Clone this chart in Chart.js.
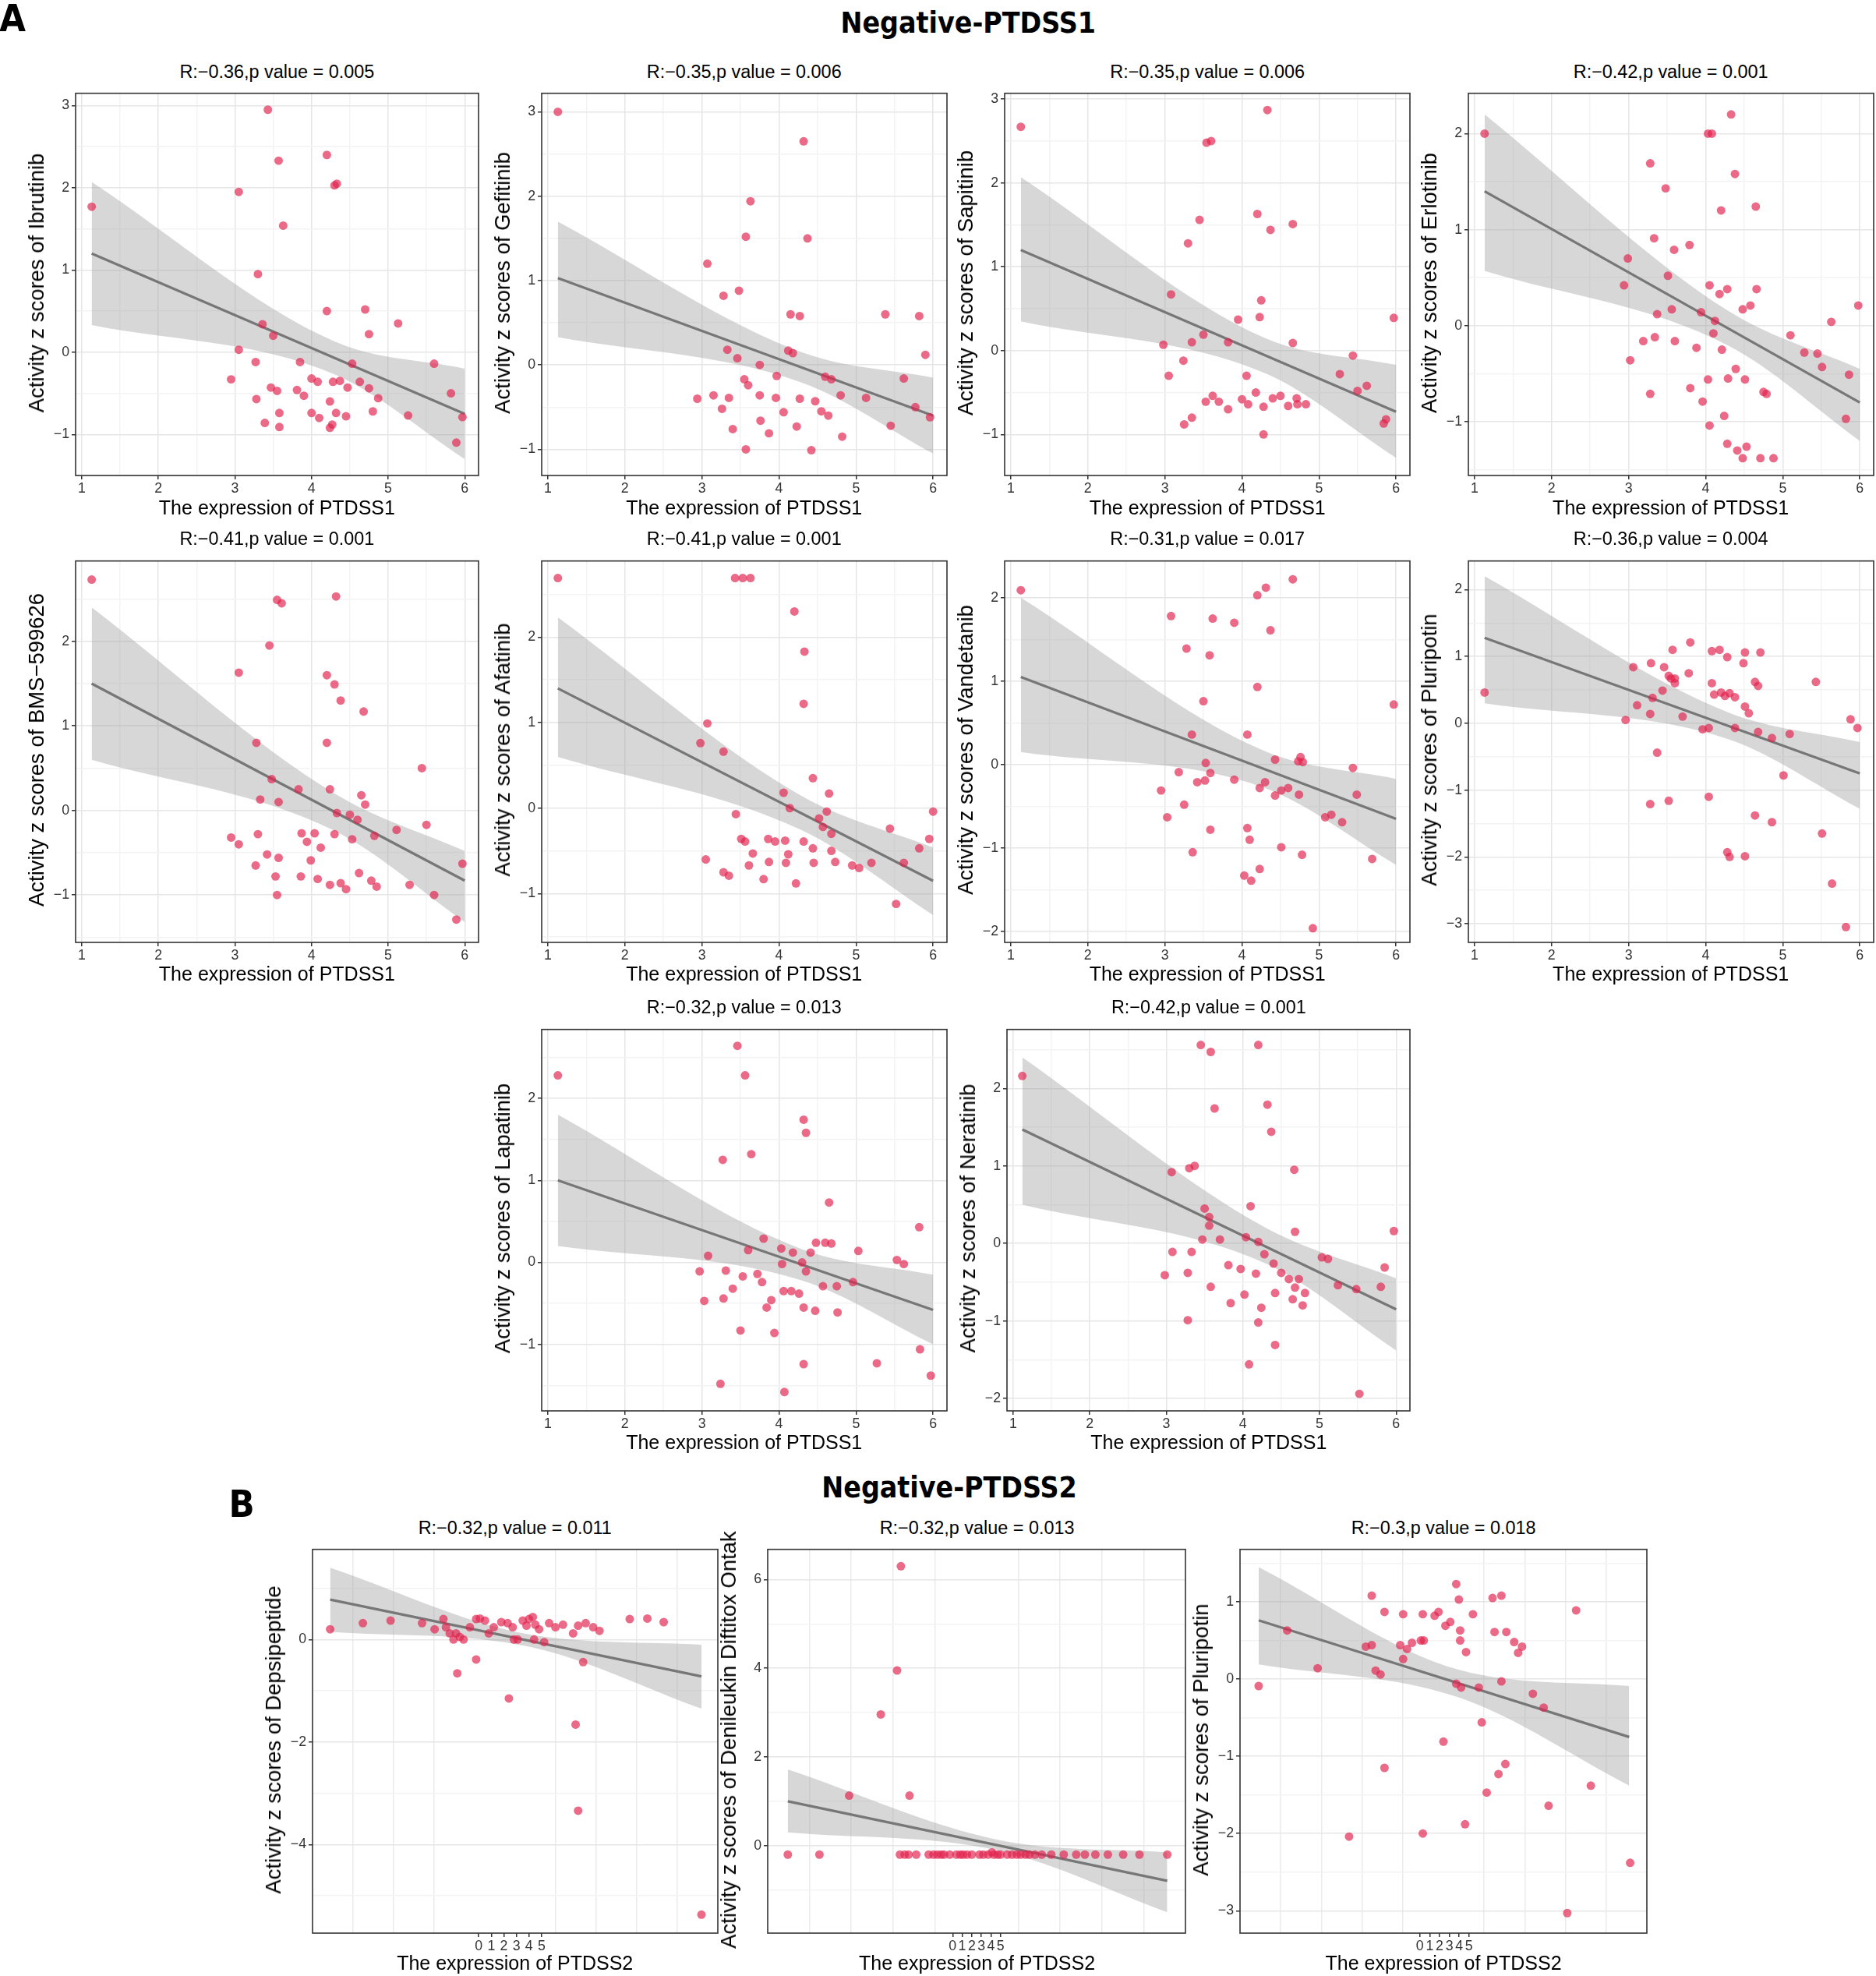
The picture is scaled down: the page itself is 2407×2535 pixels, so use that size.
<!DOCTYPE html>
<html>
<head>
<meta charset="utf-8">
<script src="https://cdn.jsdelivr.net/npm/chart.js@4.4.0/dist/chart.umd.min.js"></script>
<style>
  html, body { margin: 0; padding: 0; background: #fff; }
  #page { position: relative; width: 2407px; height: 2535px; overflow: hidden; font-family: 'Liberation Sans', Arial, sans-serif; color: #000; }
  .txt { position: absolute; white-space: nowrap; transform: translate(-50%, -50%); }
  .ytitle { transform: translate(-50%, -50%) rotate(-90deg); }
  .head { font-family: 'DejaVu Sans Condensed', 'DejaVu Sans', sans-serif; font-weight: bold; }
  .box { position: absolute; }
</style>
</head>
<body>
<div id="page"></div>
<script>
// ---- data ----
const ibrutinib = [[1.13,1.77],[3.43,2.95],[3.05,1.95],[3.57,2.33],[3.63,1.54],[3.3,0.95],[4.2,2.4],[4.33,2.05],[4.3,2.03],[4.2,0.5],[4.7,0.52],[4.75,0.22],[5.13,0.35],[3.05,0.03],[2.95,-0.33],[3.36,0.34],[3.5,0.2],[3.27,-0.12],[3.85,-0.12],[4.0,-0.32],[4.08,-0.36],[4.37,-0.35],[4.53,-0.14],[4.63,-0.36],[4.75,-0.44],[4.87,-0.56],[4.8,-0.72],[4.47,-0.43],[4.28,-0.36],[4.24,-0.6],[3.9,-0.53],[3.81,-0.46],[3.47,-0.43],[3.55,-0.47],[3.28,-0.57],[3.58,-0.74],[3.39,-0.86],[3.58,-0.91],[4.0,-0.74],[4.1,-0.8],[4.27,-0.88],[4.32,-0.74],[4.45,-0.78],[4.24,-0.92],[5.26,-0.77],[5.6,-0.14],[5.82,-0.5],[5.97,-0.79],[5.89,-1.1]];
const gefitinib = [[1.13,3.0],[4.32,2.65],[3.63,1.94],[3.57,1.52],[4.37,1.5],[3.07,1.2],[3.28,0.82],[3.48,0.88],[4.15,0.6],[4.27,0.58],[5.38,0.6],[5.82,0.58],[5.9,0.12],[3.33,0.18],[4.12,0.17],[3.46,0.08],[3.75,0.0],[3.55,-0.17],[3.97,-0.13],[4.18,0.14],[4.6,-0.14],[4.68,-0.17],[3.15,-0.36],[2.94,-0.4],[3.35,-0.39],[3.6,-0.24],[3.75,-0.36],[3.96,-0.39],[4.06,-0.56],[4.27,-0.4],[4.47,-0.43],[4.55,-0.55],[4.8,-0.36],[5.13,-0.39],[5.62,-0.16],[5.77,-0.5],[5.45,-0.72],[5.96,-0.62],[3.26,-0.52],[3.4,-0.76],[3.76,-0.66],[4.23,-0.73],[3.87,-0.81],[3.57,-1.0],[4.42,-1.01],[4.82,-0.85],[4.64,-0.6]];
const sapitinib = [[1.13,2.67],[4.33,2.87],[3.6,2.5],[3.54,2.48],[3.45,1.56],[3.3,1.28],[4.2,1.63],[4.37,1.44],[4.66,1.51],[3.08,0.67],[4.25,0.6],[3.95,0.37],[4.23,0.4],[5.97,0.39],[2.98,0.07],[3.35,0.1],[3.5,0.19],[3.82,0.1],[4.66,0.09],[5.44,-0.06],[5.27,-0.28],[5.62,-0.42],[5.5,-0.48],[3.24,-0.12],[3.05,-0.3],[4.06,-0.3],[3.62,-0.54],[3.53,-0.61],[3.7,-0.61],[3.82,-0.7],[4.0,-0.58],[4.08,-0.64],[4.18,-0.5],[4.28,-0.67],[4.4,-0.57],[4.5,-0.54],[4.6,-0.66],[4.71,-0.57],[4.83,-0.64],[3.35,-0.8],[3.25,-0.88],[4.28,-1.0],[5.84,-0.87],[5.87,-0.82],[4.72,-0.64]];
const erlotinib = [[1.13,2.0],[4.33,2.2],[4.03,2.0],[4.08,2.0],[3.28,1.69],[3.48,1.43],[4.2,1.2],[4.65,1.24],[4.38,1.58],[3.33,0.91],[3.59,0.79],[3.79,0.84],[2.99,0.7],[3.51,0.52],[4.05,0.42],[4.18,0.33],[4.28,0.38],[4.66,0.38],[2.94,0.42],[3.37,0.12],[3.56,0.17],[3.94,0.14],[4.12,0.05],[4.48,0.17],[4.58,0.21],[4.1,-0.08],[3.34,-0.12],[3.19,-0.16],[3.6,-0.16],[3.88,-0.23],[4.21,-0.25],[5.1,-0.1],[5.28,-0.28],[5.45,-0.29],[5.51,-0.43],[5.98,0.21],[5.86,-0.51],[3.02,-0.36],[3.28,-0.71],[4.39,-0.45],[4.29,-0.55],[4.03,-0.56],[4.51,-0.56],[4.75,-0.69],[4.79,-0.71],[3.8,-0.65],[3.96,-0.79],[4.24,-0.94],[4.05,-1.04],[4.28,-1.23],[4.41,-1.3],[4.53,-1.26],[4.48,-1.38],[4.71,-1.38],[4.88,-1.38],[5.82,-0.97],[5.63,0.04]];
const bms599626 = [[1.13,2.73],[3.55,2.49],[3.61,2.45],[4.32,2.53],[3.45,1.95],[3.05,1.63],[4.2,1.6],[4.3,1.49],[4.38,1.3],[4.68,1.17],[3.28,0.8],[4.2,0.8],[5.44,0.5],[3.48,0.37],[3.33,0.13],[3.57,0.1],[3.83,0.25],[4.24,0.25],[4.65,0.18],[4.7,0.07],[4.33,-0.03],[4.5,-0.05],[4.6,-0.11],[5.11,-0.23],[5.5,-0.17],[2.95,-0.32],[3.05,-0.4],[3.3,-0.28],[3.87,-0.27],[3.94,-0.37],[4.04,-0.27],[4.3,-0.28],[4.12,-0.44],[4.53,-0.34],[4.82,-0.3],[3.42,-0.52],[3.57,-0.56],[3.27,-0.65],[3.99,-0.59],[4.08,-0.81],[3.53,-0.78],[3.86,-0.78],[4.24,-0.88],[4.45,-0.93],[4.62,-0.74],[4.78,-0.83],[4.85,-0.9],[4.38,-0.86],[3.55,-1.0],[5.28,-0.88],[5.6,-1.0],[5.97,-0.63],[5.89,-1.29]];
const afatinib = [[1.13,2.69],[3.43,2.69],[3.53,2.69],[3.63,2.69],[4.2,2.3],[4.33,1.83],[4.32,1.22],[3.07,0.99],[2.98,0.76],[3.28,0.66],[4.44,0.35],[4.06,0.18],[4.14,0.0],[4.65,0.17],[4.62,-0.04],[3.44,-0.07],[4.52,-0.12],[4.57,-0.22],[4.68,-0.3],[5.44,-0.24],[5.95,-0.36],[6.0,-0.04],[3.51,-0.36],[3.56,-0.39],[3.86,-0.36],[3.95,-0.39],[4.08,-0.38],[4.12,-0.54],[4.32,-0.39],[4.44,-0.47],[4.68,-0.5],[3.66,-0.53],[3.87,-0.63],[3.05,-0.6],[3.28,-0.75],[3.35,-0.79],[3.61,-0.67],[3.8,-0.83],[4.09,-0.64],[4.22,-0.88],[4.45,-0.64],[4.73,-0.63],[4.95,-0.67],[5.04,-0.7],[5.2,-0.64],[5.62,-0.64],[5.82,-0.47],[5.52,-1.12]];
const vandetanib = [[1.13,2.09],[4.66,2.22],[4.31,2.12],[4.2,2.03],[4.37,1.61],[3.9,1.7],[3.62,1.75],[3.08,1.78],[3.28,1.39],[3.58,1.31],[4.2,0.93],[3.5,0.76],[5.97,0.72],[3.35,0.36],[4.07,0.36],[4.76,0.09],[4.73,0.04],[4.79,0.03],[3.53,0.02],[3.59,-0.1],[3.18,-0.09],[4.43,0.06],[3.9,-0.18],[3.52,-0.19],[3.42,-0.21],[4.3,-0.21],[4.23,-0.28],[4.6,-0.28],[4.51,-0.31],[4.43,-0.37],[4.74,-0.36],[5.44,-0.04],[5.49,-0.36],[5.08,-0.63],[5.16,-0.6],[5.3,-0.69],[2.95,-0.31],[3.25,-0.48],[3.03,-0.63],[4.07,-0.76],[3.59,-0.78],[4.1,-0.9],[4.51,-0.99],[4.78,-1.08],[5.69,-1.13],[3.36,-1.05],[4.03,-1.33],[4.12,-1.39],[4.23,-1.25],[4.92,-1.96]];
const pluripotin1 = [[1.13,0.46],[2.96,0.05],[3.06,0.84],[3.29,0.9],[3.46,0.84],[3.52,0.71],[3.55,0.67],[3.6,0.67],[3.6,0.6],[3.44,0.49],[3.31,0.38],[3.11,0.27],[3.28,0.14],[3.8,1.21],[3.57,1.1],[4.08,1.08],[4.18,1.1],[4.51,1.06],[4.71,1.06],[4.28,0.99],[4.49,0.9],[3.78,0.75],[4.08,0.6],[4.11,0.43],[4.25,0.41],[4.31,0.45],[4.38,0.39],[4.2,0.46],[4.64,0.62],[4.68,0.56],[4.51,0.25],[4.56,0.15],[3.7,0.1],[4.04,-0.07],[3.96,-0.09],[4.38,-0.07],[4.68,-0.13],[4.86,-0.22],[5.09,-0.16],[5.43,0.62],[5.88,0.06],[5.97,-0.07],[3.37,-0.44],[5.01,-0.78],[3.28,-1.21],[3.52,-1.16],[4.04,-1.1],[4.64,-1.38],[4.86,-1.48],[5.51,-1.65],[4.28,-1.93],[4.31,-2.0],[4.51,-1.99],[5.64,-2.4],[5.82,-3.05]];
const lapatinib = [[1.13,2.28],[3.46,2.64],[3.56,2.28],[3.64,1.32],[3.27,1.25],[4.32,1.74],[4.35,1.58],[4.65,0.73],[3.8,0.29],[3.08,0.08],[3.6,0.15],[4.48,0.24],[4.6,0.24],[4.68,0.23],[5.03,0.14],[4.03,0.17],[4.18,0.12],[4.04,-0.02],[4.3,0.0],[4.41,0.12],[5.53,0.03],[5.62,-0.02],[5.82,0.43],[2.97,-0.11],[3.31,-0.1],[3.53,-0.17],[3.72,-0.14],[3.78,-0.24],[4.35,-0.11],[4.57,-0.29],[4.75,-0.29],[4.96,-0.24],[3.4,-0.32],[4.06,-0.35],[4.16,-0.35],[4.26,-0.38],[4.32,-0.55],[4.47,-0.59],[3.03,-0.47],[3.28,-0.44],[3.84,-0.55],[3.9,-0.46],[4.76,-0.61],[3.5,-0.83],[3.94,-0.86],[4.32,-1.24],[5.27,-1.23],[5.83,-1.06],[4.07,-1.58],[3.24,-1.48],[5.97,-1.38]];
const neratinib = [[1.12,2.16],[3.45,2.56],[3.58,2.47],[4.2,2.56],[4.32,1.79],[3.63,1.74],[4.37,1.44],[3.07,0.92],[3.3,0.97],[3.37,1.0],[4.67,0.95],[3.5,0.45],[3.56,0.34],[4.1,0.48],[3.08,-0.11],[3.33,-0.11],[3.47,0.05],[3.56,0.23],[3.7,0.05],[4.04,0.08],[4.2,0.02],[4.28,-0.14],[4.68,0.15],[5.03,-0.18],[5.11,-0.2],[5.97,0.16],[5.85,-0.31],[2.98,-0.41],[3.28,-0.38],[3.81,-0.28],[3.97,-0.33],[4.17,-0.39],[4.4,-0.26],[4.5,-0.38],[4.6,-0.46],[4.73,-0.46],[4.68,-0.57],[4.81,-0.64],[5.24,-0.54],[5.48,-0.59],[5.8,-0.56],[3.58,-0.56],[4.02,-0.66],[4.42,-0.64],[4.65,-0.72],[4.24,-0.83],[3.84,-0.77],[4.78,-0.8],[3.28,-0.99],[4.2,-1.02],[4.08,-1.56],[4.42,-1.31],[5.52,-1.94]];
const depsipeptide = [[-11.8,0.2],[-9.2,0.32],[-7,0.37],[-4.5,0.32],[-3.5,0.2],[-2.8,0.4],[-2.6,0.24],[-2.3,0.12],[-2,0],[-1.8,0.12],[-1.5,0.05],[-1.2,0],[-0.7,0.24],[-0.2,0.4],[0.1,0.41],[0.5,0.37],[0.8,0.12],[1.2,0.24],[1.8,0.34],[2.3,0.32],[2.7,0.24],[3.1,0],[3.5,0.37],[3.8,0.27],[4,0.4],[4.3,0.44],[4.5,0.29],[4.8,0.2],[5.2,-0.05],[5.6,0.32],[6.1,0.24],[6.7,0.29],[7.5,0.12],[7.9,0.27],[8.5,0.32],[9.1,0.24],[9.6,0.17],[12,0.4],[13.4,0.41],[14.7,0.34],[2.8,0],[4.4,0],[-0.2,-0.39],[8.3,-0.44],[-1.7,-0.66],[2.4,-1.15],[7.7,-1.66],[7.9,-3.34],[17.7,-5.37]];
const denileukin = [[-5.4,6.3],[-5.8,3.95],[-7.5,2.96],[-4.5,1.13],[-10.8,1.13],[-17.2,-0.2],[-13.9,-0.2],[-5.5,-0.2],[-5.0,-0.2],[-4.6,-0.2],[-3.8,-0.2],[-2.5,-0.2],[-2.0,-0.2],[-1.6,-0.2],[-1.2,-0.2],[-0.9,-0.2],[-0.3,-0.2],[0.4,-0.2],[0.8,-0.2],[1.1,-0.2],[1.5,-0.2],[2.0,-0.2],[2.8,-0.2],[3.2,-0.2],[3.7,-0.2],[4.3,-0.2],[4.7,-0.2],[5.0,-0.2],[5.7,-0.2],[6.2,-0.2],[6.7,-0.2],[7.1,-0.2],[7.6,-0.2],[8.0,-0.2],[8.6,-0.2],[9.3,-0.2],[10.3,-0.2],[11.6,-0.2],[12.9,-0.2],[13.8,-0.2],[14.9,-0.2],[16.2,-0.2],[17.8,-0.2],[19.5,-0.2],[22.4,-0.2],[4.1,-0.15]];
const pluripotin2 = [[-16.4,-0.09],[-13.5,0.63],[-10.4,0.14],[-7.2,-2.04],[-4.9,1.08],[-3.6,0.87],[-3.6,-1.15],[-1.7,0.84],[-5.5,0.42],[-4.9,0.44],[-4.5,0.11],[-4,0.06],[-2,0.44],[-1.7,0.26],[-1.3,0.39],[-0.8,0.47],[0.1,0.5],[0.3,0.84],[0.4,0.5],[1.5,0.82],[1.9,0.87],[2.6,0.69],[3.1,0.74],[3.7,1.23],[3.97,1.03],[4.1,0.63],[4.1,0.5],[4.7,0.35],[5.4,0.84],[7.6,0.61],[8.3,1.08],[7.4,1.05],[8.8,0.61],[9.6,0.48],[10,0.34],[10.4,0.42],[3.7,-0.06],[4.2,-0.11],[6,-0.11],[8.3,-0.03],[11.5,-0.19],[12.6,-0.37],[2.4,-0.81],[6.3,-0.56],[8.7,-1.1],[8,-1.23],[6.8,-1.47],[4.6,-1.88],[0.3,-2],[13.1,-1.64],[15.9,0.89],[17.4,-1.38],[15,-3.03],[21.4,-2.38]];

// regression line ends and confidence band
const fitX = {
  ibrutinib: [1.13, 6], gefitinib: [1.13, 6], sapitinib: [1.13, 6], erlotinib: [1.13, 6],
  bms599626: [1.13, 6], afatinib: [1.13, 6], vandetanib: [1.13, 6], pluripotin1: [1.13, 6],
  lapatinib: [1.13, 6], neratinib: [1.12, 6],
  depsipeptide: [-11.8, 17.7], denileukin: [-17.2, 22.4], pluripotin2: [-16.4, 21.3]
};
const fitY = {
  ibrutinib: [1.2, -0.75], gefitinib: [1.03, -0.6], sapitinib: [1.2, -0.73], erlotinib: [1.4, -0.8],
  bms599626: [1.5, -0.83], afatinib: [1.4, -0.85], vandetanib: [1.05, -0.65], pluripotin1: [1.28, -0.75],
  lapatinib: [1.0, -0.58], neratinib: [1.47, -0.85],
  depsipeptide: [0.78, -0.72], denileukin: [1.0, -0.79], pluripotin2: [0.76, -0.75]
};
const bandX = {
  ibrutinib: [1.13, 4.3, 6], gefitinib: [1.13, 4.3, 6], sapitinib: [1.13, 4.3, 6], erlotinib: [1.13, 4.3, 6],
  bms599626: [1.13, 4.3, 6], afatinib: [1.13, 4.3, 6], vandetanib: [1.13, 4.3, 6], pluripotin1: [1.13, 4.3, 6],
  lapatinib: [1.13, 4.3, 6], neratinib: [1.12, 4.3, 6],
  depsipeptide: [-11.8, 4, 17.7], denileukin: [-17.2, 5, 22.4], pluripotin2: [-16.4, 4, 21.3]
};
const bandHi = {
  ibrutinib: [2.07, 0.13, -0.2], gefitinib: [1.7, 0.15, -0.15], sapitinib: [2.07, 0.15, -0.17], erlotinib: [2.2, 0.15, -0.45],
  bms599626: [2.4, 0.2, -0.48], afatinib: [2.23, 0.14, -0.46], vandetanib: [2.0, 0.16, -0.17], pluripotin1: [2.2, 0.16, -0.28],
  lapatinib: [1.8, 0.16, -0.15], neratinib: [2.4, 0.2, -0.45],
  depsipeptide: [1.4, 0.1, -0.1], denileukin: [1.72, 0.12, -0.15], pluripotin2: [1.45, 0.12, -0.09]
};
const bandLo = {
  ibrutinib: [0.33, -0.27, -1.3], gefitinib: [0.33, -0.21, -1.05], sapitinib: [0.35, -0.27, -1.28], erlotinib: [0.57, -0.21, -1.2],
  bms599626: [0.6, -0.24, -1.32], afatinib: [0.6, -0.26, -1.25], vandetanib: [0.15, -0.28, -1.2], pluripotin1: [0.3, -0.24, -1.28],
  lapatinib: [0.2, -0.22, -1.0], neratinib: [0.5, -0.26, -1.38],
  depsipeptide: [0.15, -0.14, -1.35], denileukin: [0.3, -0.12, -1.5], pluripotin2: [0.19, -0.24, -1.38]
};

const titles = {
  ibrutinib: 'R:−0.36,p value = 0.005', gefitinib: 'R:−0.35,p value = 0.006', sapitinib: 'R:−0.35,p value = 0.006', erlotinib: 'R:−0.42,p value = 0.001',
  bms599626: 'R:−0.41,p value = 0.001', afatinib: 'R:−0.41,p value = 0.001', vandetanib: 'R:−0.31,p value = 0.017', pluripotin1: 'R:−0.36,p value = 0.004',
  lapatinib: 'R:−0.32,p value = 0.013', neratinib: 'R:−0.42,p value = 0.001',
  depsipeptide: 'R:−0.32,p value = 0.011', denileukin: 'R:−0.32,p value = 0.013', pluripotin2: 'R:−0.3,p value = 0.018'
};
const drugNames = {
  ibrutinib: 'Ibrutinib', gefitinib: 'Gefitinib', sapitinib: 'Sapitinib', erlotinib: 'Erlotinib',
  bms599626: 'BMS−599626', afatinib: 'Afatinib', vandetanib: 'Vandetanib', pluripotin1: 'Pluripotin',
  lapatinib: 'Lapatinib', neratinib: 'Neratinib',
  depsipeptide: 'Depsipeptide', denileukin: 'Denileukin Diftitox Ontak', pluripotin2: 'Pluripotin'
};
const points = { ibrutinib, gefitinib, sapitinib, erlotinib, bms599626, afatinib, vandetanib, pluripotin1, lapatinib, neratinib, depsipeptide, denileukin, pluripotin2 };

const xTicksA = [1, 2, 3, 4, 5, 6];
const xTicksB = [0, 1, 2, 3, 4, 5];

// layout in reference units (1490 wide), scaled by S to the page
const S = 2407 / 1490;
const panels = [
  { key: 'ibrutinib', box: [60, 72, 380, 378], x: [0.92, 6.18], y: [-1.5, 3.15], gene: 'PTDSS1' },
  { key: 'gefitinib', box: [430, 72, 752, 378], x: [0.92, 6.18], y: [-1.31, 3.22], gene: 'PTDSS1' },
  { key: 'sapitinib', box: [798, 72, 1120, 378], x: [0.92, 6.18], y: [-1.49, 3.07], gene: 'PTDSS1' },
  { key: 'erlotinib', box: [1166, 72, 1488, 378], x: [0.92, 6.18], y: [-1.56, 2.42], gene: 'PTDSS1' },
  { key: 'bms599626', box: [60, 443, 380, 748], x: [0.92, 6.18], y: [-1.56, 2.95], gene: 'PTDSS1' },
  { key: 'afatinib', box: [430, 443, 752, 748], x: [0.92, 6.18], y: [-1.57, 2.89], gene: 'PTDSS1' },
  { key: 'vandetanib', box: [798, 443, 1120, 748], x: [0.92, 6.18], y: [-2.13, 2.44], gene: 'PTDSS1' },
  { key: 'pluripotin1', box: [1166, 443, 1488, 748], x: [0.92, 6.18], y: [-3.28, 2.43], gene: 'PTDSS1' },
  { key: 'lapatinib', box: [430, 815, 752, 1120], x: [0.92, 6.18], y: [-1.81, 2.84], gene: 'PTDSS1' },
  { key: 'neratinib', box: [800, 815, 1120, 1120], x: [0.92, 6.18], y: [-2.16, 2.76], gene: 'PTDSS1' },
  { key: 'depsipeptide', box: [248, 1228, 570, 1535], x: [-13.2, 19], y: [-5.73, 1.76], gene: 'PTDSS2', ystep: 2 },
  { key: 'denileukin', box: [610, 1228, 942, 1535], x: [-19.3, 24.3], y: [-1.97, 6.68], gene: 'PTDSS2', ystep: 2 },
  { key: 'pluripotin2', box: [985, 1228, 1308, 1535], x: [-18.3, 23.1], y: [-3.29, 1.68], gene: 'PTDSS2' }
];

const page = document.getElementById('page');
const FONT = "'Liberation Sans', Arial, sans-serif";

const framePlugin = {
  id: 'frame',
  afterDraw(chart) {
    const a = chart.chartArea, c = chart.ctx;
    c.save();
    c.strokeStyle = '#333';
    c.lineWidth = 1.6;
    c.strokeRect(a.left, a.top, a.right - a.left, a.bottom - a.top);
    c.restore();
  }
};

function addText(text, x, y, size, cls) {
  const d = document.createElement('div');
  d.className = 'txt' + (cls ? ' ' + cls : '');
  d.style.left = (x * S) + 'px';
  d.style.top = (y * S) + 'px';
  d.style.fontSize = (size * S) + 'px';
  d.textContent = text;
  page.appendChild(d);
  return d;
}

addText('A', 10, 14, 30, 'head');
addText('Negative-PTDSS1', 769, 18, 23, 'head');
addText('B', 192, 1194, 30, 'head');
addText('Negative-PTDSS2', 754, 1181, 23, 'head');

panels.forEach(p => {
  const [L, T, R, B] = p.box.map(v => v * S);
  const isB = p.gene === 'PTDSS2';
  const padL = Math.round(22 * S), padT = Math.round(6 * S), padR = Math.round(6 * S), padB = Math.round(20 * S);
  const w = Math.round(R - L + padL + padR), h = Math.round(B - T + padT + padB);
  const div = document.createElement('div');
  div.className = 'box';
  div.style.left = Math.round(L - padL) + 'px';
  div.style.top = Math.round(T - padT) + 'px';
  div.style.width = w + 'px';
  div.style.height = h + 'px';
  const canvas = document.createElement('canvas');
  canvas.width = w; canvas.height = h;
  canvas.style.width = w + 'px'; canvas.style.height = h + 'px';
  div.appendChild(canvas);
  page.appendChild(div);

  const [l0, t0, r0, b0] = p.box;
  addText(titles[p.key], (l0 + r0) / 2, t0 - 15, 14.5);
  addText('The expression of ' + p.gene, (l0 + r0) / 2, b0 + (isB ? 24 : 25), 15.5);
  addText('Activity z scores of ' + drugNames[p.key], l0 - 31, (t0 + b0) / 2, 17, 'ytitle');

  const fx = fitX[p.key], fy = fitY[p.key];
  const bx = bandX[p.key];
  const ystep = p.ystep || 1;

  let xTickVals;
  if (isB) {
    const span = p.x[1] - p.x[0];
    const extra = [];
    for (let i = 1; i < 10; i++) extra.push(p.x[0] + span * i / 10);
    xTickVals = xTicksB.concat(extra.filter(v => v < -1 || v > 6));
  } else {
    xTickVals = [];
    for (let v = 1; v <= 6.01; v += 0.5) xTickVals.push(v);
  }
  const yTickVals = [];
  for (let v = Math.ceil(p.y[0] / (ystep / 2)) * (ystep / 2); v <= p.y[1]; v += ystep / 2) yTickVals.push(+v.toFixed(3));
  const isMajorY = v => Math.abs(v / ystep - Math.round(v / ystep)) < 1e-6;

  new Chart(canvas, {
    type: 'scatter',
    data: {
      datasets: [
        {
          data: points[p.key].map(d => ({ x: d[0], y: d[1] })),
          backgroundColor: 'rgba(226, 36, 78, 0.68)',
          borderWidth: 0,
          pointRadius: 3.4 * S,
          order: 0
        },
        {
          data: fx.map((x, i) => ({ x, y: fy[i] })),
          showLine: true,
          borderColor: '#777777',
          borderWidth: 2 * S,
          pointRadius: 0,
          order: 1
        },
        {
          data: bx.map((x, i) => ({ x, y: bandHi[p.key][i] })),
          showLine: true,
          borderWidth: 0,
          borderColor: 'rgba(0,0,0,0)',
          backgroundColor: 'rgba(160, 160, 160, 0.42)',
          pointRadius: 0,
          cubicInterpolationMode: 'monotone',
          fill: '+1',
          order: 2
        },
        {
          data: bx.map((x, i) => ({ x, y: bandLo[p.key][i] })),
          showLine: true,
          borderWidth: 0,
          borderColor: 'rgba(0,0,0,0)',
          pointRadius: 0,
          cubicInterpolationMode: 'monotone',
          fill: false,
          order: 3
        }
      ]
    },
    options: {
      responsive: false,
      animation: false,
      devicePixelRatio: 1,
      layout: { padding: { top: padT, right: padR, left: 0, bottom: 0 } },
      plugins: { legend: { display: false }, tooltip: { enabled: false } },
      scales: {
        x: {
          type: 'linear', min: p.x[0], max: p.x[1],
          afterFit: s => { s.height = padB; },
          afterBuildTicks: s => { s.ticks = xTickVals.map(v => ({ value: v })); },
          grid: {
            color: ctx => (isB ? ((ctx.tick && xTicksB.includes(ctx.tick.value)) ? 'rgba(0,0,0,0)' : '#ebebeb')
              : (ctx.tick && Number.isInteger(ctx.tick.value) ? '#e6e6e6' : '#f3f3f3')),
            tickColor: ctx => (ctx.tick && (isB ? xTicksB : xTicksA).includes(ctx.tick.value)) ? '#333' : 'rgba(0,0,0,0)',
            tickLength: 5,
            lineWidth: 1.5
          },
          border: { display: false },
          ticks: {
            autoSkip: false, maxRotation: 0, padding: 1,
            color: '#333', font: { family: FONT, size: (isB ? 11 : 11) * S },
            callback: v => (isB ? xTicksB : xTicksA).includes(v) ? String(v) : ''
          }
        },
        y: {
          type: 'linear', min: p.y[0], max: p.y[1],
          afterFit: s => { s.width = padL; },
          afterBuildTicks: s => { s.ticks = yTickVals.map(v => ({ value: v })); },
          grid: {
            color: ctx => (ctx.tick && isMajorY(ctx.tick.value)) ? '#e6e6e6' : '#f3f3f3',
            tickColor: ctx => (ctx.tick && isMajorY(ctx.tick.value)) ? '#333' : 'rgba(0,0,0,0)',
            tickLength: 5,
            lineWidth: 1.5
          },
          border: { display: false },
          ticks: {
            autoSkip: false, padding: 3,
            color: '#333', font: { family: FONT, size: 11 * S },
            callback: v => isMajorY(v) ? (v < 0 ? '−' + Math.abs(Math.round(v)) : String(Math.round(v))) : ''
          }
        }
      }
    },
    plugins: [framePlugin]
  });
});
</script>
</body>
</html>
